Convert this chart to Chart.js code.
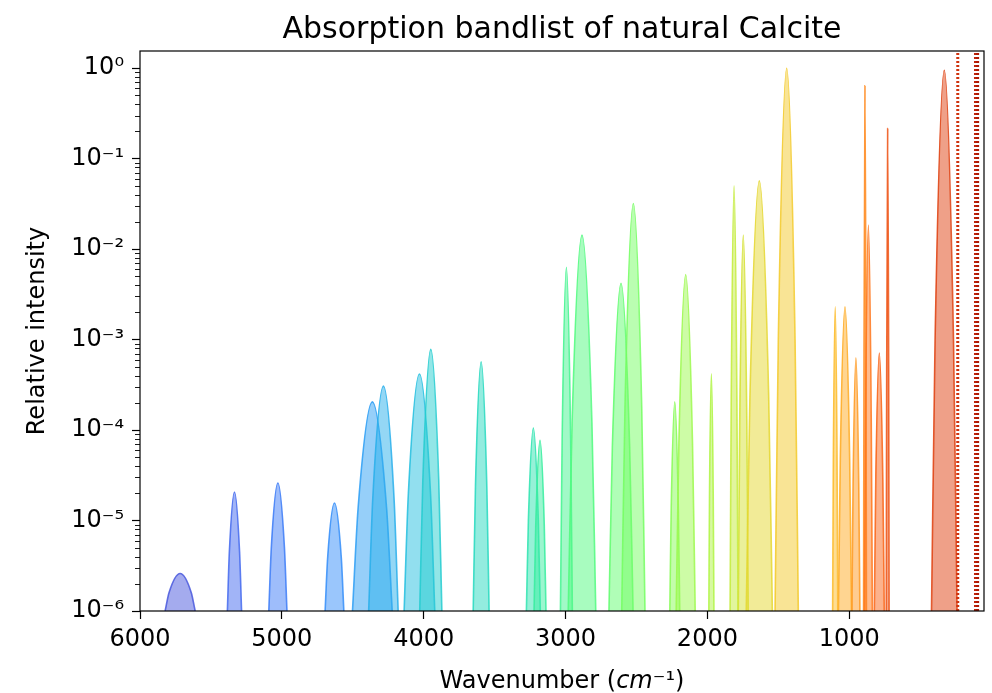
<!DOCTYPE html>
<html>
<head>
<meta charset="utf-8">
<script src="https://cdn.jsdelivr.net/npm/chart.js@4/dist/chart.umd.min.js"></script>
<style>
  html, body { margin: 0; padding: 0; background: #fff; }
  canvas { display: block; }
</style>
</head>
<body>
<canvas id="bandChart" width="992" height="693"></canvas>
<script>
// band list (wavenumber cm-1, peak relative intensity)
const bandCenter    = [5717, 5334, 5028, 4629, 4362, 4284, 4030, 3950, 3595, 3227,
                       3180, 2994, 2884, 2609, 2522, 2230, 2153, 1972, 1812, 1747,
                       1634, 1441, 1099, 1030,  953,  889,  865,  788,  729,  330];
const bandPeak      = [2.6e-6, 2.07e-5, 2.6e-5, 1.56e-5, 2.05e-4, 3.06e-4, 4.16e-4, 7.8e-4, 5.7e-4, 1.05e-4,
                       7.7e-5, 6.3e-3, 1.43e-2, 4.2e-3, 3.2e-2, 2.05e-4, 5.25e-3, 4.2e-4, 0.050, 0.0143,
                       0.057, 1.0, 2.3e-3, 2.3e-3, 6.3e-4, 0.64, 0.0185, 7.1e-4, 0.216, 0.95];
// half width where the band meets the 1e-6 floor
const bandHalfWidth = [106, 50, 64, 66, 140, 104, 108, 78, 56, 49,
                       42, 42, 97, 85, 82, 35, 67, 18, 28, 35,
                       92, 82, 18, 46, 28, 10, 28, 35, 10, 90];
// shoulder: intensity half way up each band (log axis) and its half width there
const bandMidLevel  = [1.6e-6, 4.5e-6, 5.1e-6, 3.9e-6, 1.4e-5, 1.75e-5, 2.0e-5, 2.8e-5, 2.4e-5, 1.0e-5,
                       8.8e-6, 7.9e-5, 1.2e-4, 6.5e-5, 1.8e-4, 1.4e-5, 7.2e-5, 2.0e-5, 2.2e-4, 1.2e-4,
                       2.4e-4, 1.0e-3, 4.8e-5, 4.8e-5, 2.5e-5, 8.0e-4, 1.36e-4, 2.7e-5, 4.6e-4, 9.7e-4];
const bandMidWidth  = [78, 36, 46, 48, 100, 75, 78, 56, 40, 35,
                       30, 30, 70, 61, 59, 25, 48, 13, 20, 25,
                       66, 59, 13, 33, 20, 7, 20, 25, 7, 65];
// dotted marker lines at the far-IR end
const markerLines = [235, 110, 95];

const xTicks = [6000, 5000, 4000, 3000, 2000, 1000];
const yMajorTicks = [1e-6, 1e-5, 1e-4, 1e-3, 1e-2, 1e-1, 1];
const yTickLabels = ['10⁻⁶', '10⁻⁵', '10⁻⁴', '10⁻³', '10⁻²', '10⁻¹', '10⁰'];
const yMinorTicks = [];
for (let e = -6; e < 0; e++) {
  for (let k = 2; k <= 9; k++) yMinorTicks.push(k * Math.pow(10, e));
}

const chartTitle = 'Absorption bandlist of natural Calcite';
const yTitle = 'Relative intensity';
const FLOOR = 1e-6, TOP = 1.55;
const FONT = '"DejaVu Sans", "Liberation Sans", sans-serif';

// turbo colour map (polynomial fit)
function turbo(t) {
  const r = 0.13572138 + t*(4.61539260 + t*(-42.66032258 + t*(132.13108234 + t*(-152.94239396 + t*59.28637943))));
  const g = 0.09140261 + t*(2.19418839 + t*(4.84296658 + t*(-14.18503333 + t*(4.27729857 + t*2.82956604))));
  const b = 0.10667330 + t*(12.64194608 + t*(-60.58204836 + t*(110.36276771 + t*(-89.90310912 + t*27.34824973))));
  return [r, g, b].map(c => Math.round(255 * Math.min(1, Math.max(0, c))));
}
function rgba(c, a) { return 'rgba(' + c[0] + ',' + c[1] + ',' + c[2] + ',' + a + ')'; }

const datasets = [];
bandCenter.forEach((c, i) => {
  const col = turbo(0.10 + 0.0255 * i);
  datasets.push({
    data: [
      { x: c - bandHalfWidth[i], y: FLOOR },
      { x: c - bandMidWidth[i], y: bandMidLevel[i] },
      { x: c, y: bandPeak[i] },
      { x: c + bandMidWidth[i], y: bandMidLevel[i] },
      { x: c + bandHalfWidth[i], y: FLOOR }
    ],
    borderColor: rgba(col, 0.85),
    backgroundColor: rgba(col, 0.5),
    borderWidth: 1.6,
    fill: 'start',
    cubicInterpolationMode: 'monotone',
    pointRadius: 0,
    order: -i
  });
});
markerLines.forEach((w, j) => {
  const col = turbo(0.10 + 0.0255 * (bandCenter.length + j));
  datasets.push({
    data: [{ x: w, y: FLOOR }, { x: w, y: TOP }],
    borderColor: rgba(col, 1),
    borderWidth: 3,
    borderDash: [2, 2],
    fill: false,
    pointRadius: 0,
    order: -100 - j
  });
});

const decor = {
  id: 'decor',
  afterDatasetsDraw(chart) {
    const ctx = chart.ctx, a = chart.chartArea, y = chart.scales.y;
    ctx.save();
    ctx.strokeStyle = '#000';
    ctx.lineWidth = 1.2;
    ctx.strokeRect(a.left, a.top, a.right - a.left, a.bottom - a.top);
    ctx.lineWidth = 0.9;
    yMinorTicks.forEach(v => {
      const py = Math.round(y.getPixelForValue(v)) + 0.5;
      ctx.beginPath();
      ctx.moveTo(a.left - 5, py);
      ctx.lineTo(a.left, py);
      ctx.stroke();
    });
    ctx.fillStyle = '#000';
    // title
    ctx.font = '30px ' + FONT;
    ctx.textAlign = 'center';
    ctx.textBaseline = 'alphabetic';
    ctx.fillText(chartTitle, (a.left + a.right) / 2, 38);
    // x title with italic unit
    const parts = [
      ['Wavenumber (', '24px ' + FONT],
      ['cm', 'italic 24px ' + FONT],
      ['⁻¹', '24px ' + FONT],
      [')', '24px ' + FONT]
    ];
    let total = 0;
    parts.forEach(p => { ctx.font = p[1]; total += ctx.measureText(p[0]).width; });
    let x = (a.left + a.right) / 2 - total / 2;
    ctx.textAlign = 'left';
    parts.forEach(p => { ctx.font = p[1]; ctx.fillText(p[0], x, 688); x += ctx.measureText(p[0]).width; });
    // y title
    ctx.translate(44, (a.top + a.bottom) / 2);
    ctx.rotate(-Math.PI / 2);
    ctx.font = '24px ' + FONT;
    ctx.textAlign = 'center';
    ctx.fillText(yTitle, 0, 0);
    ctx.restore();
  }
};

new Chart(document.getElementById('bandChart'), {
  type: 'line',
  data: { datasets: datasets },
  plugins: [decor],
  options: {
    responsive: false,
    animation: false,
    devicePixelRatio: 1,
    layout: { padding: { top: 51, right: 8, left: 0, bottom: 0 } },
    plugins: { legend: { display: false }, tooltip: { enabled: false }, title: { display: false } },
    scales: {
      x: {
        type: 'linear',
        reverse: true,
        min: 50,
        max: 6000,
        afterBuildTicks: s => { s.ticks = xTicks.map(v => ({ value: v })); },
        afterFit: s => { s.height = 82; },
        ticks: { color: '#000', font: { family: FONT, size: 24 }, padding: 6, autoSkip: false, maxRotation: 0,
                 callback: v => String(v) },
        grid: { drawOnChartArea: false, tickLength: 8, tickColor: '#000', tickWidth: 1.2 },
        border: { display: false }
      },
      y: {
        type: 'logarithmic',
        min: FLOOR,
        max: TOP,
        afterBuildTicks: s => { s.ticks = yMajorTicks.map(v => ({ value: v, major: true })); },
        afterFit: s => { s.width = 140; },
        ticks: { color: '#000', font: { family: FONT, size: 24 }, padding: 8, autoSkip: false,
                 callback: v => { const k = yMajorTicks.indexOf(v); return k < 0 ? '' : yTickLabels[k]; } },
        grid: { drawOnChartArea: false, tickLength: 8, tickColor: '#000', tickWidth: 1.2 },
        border: { display: false }
      }
    }
  }
});
</script>
</body>
</html>
